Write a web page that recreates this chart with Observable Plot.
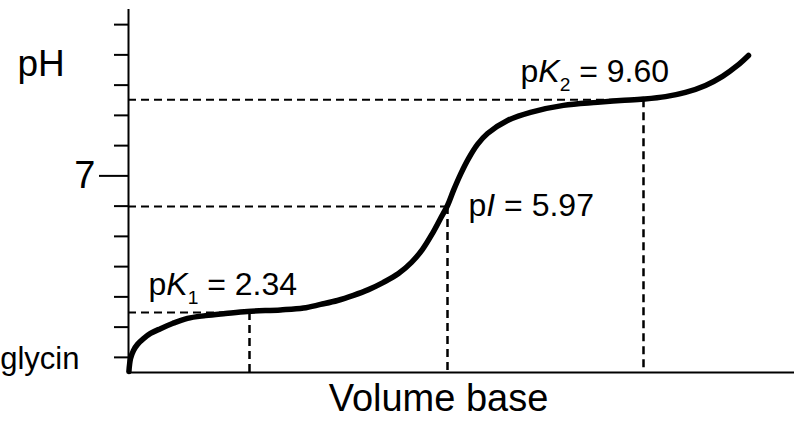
<!DOCTYPE html>
<html><head><meta charset="utf-8">
<script src="https://cdn.jsdelivr.net/npm/d3@7"></script>
<script src="https://cdn.jsdelivr.net/npm/@observablehq/plot@0.6"></script>
<style>body{margin:0;background:#fff;} svg{display:block}</style>
</head><body><div id="chart"></div>
<script>
// Titration curve of glycine (volume of base added, arbitrary units -> pH)
const curveVolume = [0.02, 0.1, 0.25, 0.45, 0.75, 1.1, 1.6, 2.2, 2.95, 3.85, 4.85, 5.95, 7.6, 8.75, 9.6, 10.45, 11.25, 12.0, 12.75, 13.5, 14.15, 14.7, 15.2, 15.6, 15.95, 16.25, 16.6, 17.0, 17.45, 17.95, 18.95, 20.1, 21.75, 23.45, 24.6, 25.75, 26.85, 27.85, 28.85, 29.7, 30.45, 31.0];
const curvePH     = [0.53, 0.96, 1.23, 1.43, 1.62, 1.79, 1.95, 2.12, 2.29, 2.38, 2.45, 2.52, 2.57, 2.63, 2.75, 2.88, 3.05, 3.24, 3.48, 3.77, 4.14, 4.57, 5.10, 5.59, 6.02, 6.52, 7.05, 7.57, 8.04, 8.40, 8.83, 9.10, 9.33, 9.43, 9.49, 9.54, 9.62, 9.76, 9.99, 10.29, 10.65, 10.98];

const markerLabels = ["pK1 = 2.34", "pI = 5.97", "pK2 = 9.60"];
const markerVolume = [6.05, 15.95, 25.75];
const markerPH     = [2.48, 5.99, 9.52];
const labelVolume  = [1.0, 17.0, 19.6];
const labelPH      = [3.05, 5.69, 10.09];

const minorTicks = [1, 2, 3, 4, 5, 6, 8, 9, 10, 11, 12];
const majorTicks = [7];
const yDomain = [0.5, 12.5];
const xDomain = [0, 33.3];

const axisTexts = [
  {text: "pH", v: -5.55, ph: 10.3, anchor: "start", size: 37},
  {text: "glycin", v: -2.45, ph: 0.63, anchor: "end", size: 31},
  {text: "Volume base", v: 15.5, ph: -0.76, anchor: "middle", size: 38}
];

const curve = curveVolume.map((v, i) => ({v, ph: curvePH[i]}));
const markers = markerLabels.map((t, i) => ({t, v: markerVolume[i], ph: markerPH[i], lv: labelVolume[i], lph: labelPH[i]}));

const font = "Liberation Sans, Arial, Helvetica, sans-serif";
const dash = "8,5";
const labelSize = 32;

const chart = Plot.plot({
  width: 794, height: 421,
  marginLeft: 128, marginRight: 0, marginTop: 9, marginBottom: 49,
  style: {fontFamily: font, background: "#fff", color: "#000"},
  x: {domain: xDomain, axis: null},
  y: {domain: yDomain, label: null},
  marks: [
    Plot.axisY({ticks: minorTicks, tickSize: 14, tickFormat: () => "", strokeWidth: 2, stroke: "#000"}),
    Plot.axisY({ticks: majorTicks, tickSize: 29, tickPadding: 4, fontSize: 38, strokeWidth: 2, stroke: "#000", fill: "#000"}),
    Plot.ruleY(markers, {y: "ph", x1: 0, x2: "v", stroke: "#000", strokeWidth: 2, strokeDasharray: dash}),
    Plot.ruleX(markers, {x: "v", y1: "ph", y2: yDomain[0], stroke: "#000", strokeWidth: 2.5, strokeDasharray: dash}),
    Plot.ruleX([xDomain[0]], {y1: yDomain[0], y2: yDomain[1], stroke: "#000", strokeWidth: 2}),
    Plot.ruleY([yDomain[0]], {x1: xDomain[0], x2: xDomain[1], stroke: "#000", strokeWidth: 2}),
    Plot.line(curve, {x: "v", y: "ph", curve: "catmull-rom", stroke: "#000", strokeWidth: 5.5, strokeLinecap: "round"}),
    Plot.text(markers, {x: "lv", y: "lph", text: "t", textAnchor: "start", lineAnchor: "bottom", fontSize: labelSize, fill: "#000"}),
    ...axisTexts.map(d => Plot.text([d], {x: "v", y: "ph", text: "text", textAnchor: d.anchor, lineAnchor: "bottom", fontSize: d.size, fill: "#000"}))
  ]
});

// rich text for pK/pI labels: italic letter and subscript
d3.select(chart).selectAll("text").each(function() {
  const m = /^p([KI])(\d?) = (.+)$/.exec(this.textContent);
  if (!m) return;
  const el = d3.select(this);
  const fs = labelSize;
  el.text(null);
  el.append("tspan").text("p");
  el.append("tspan").attr("font-style", "italic").text(m[1]);
  if (m[2]) {
    el.append("tspan").attr("font-size", fs * 0.6).attr("dy", fs * 0.28).text(m[2]);
    el.append("tspan").attr("dy", -fs * 0.28).text(" = " + m[3]);
  } else {
    el.append("tspan").text(" = " + m[3]);
  }
});

document.getElementById("chart").append(chart);
</script>
</body></html>
